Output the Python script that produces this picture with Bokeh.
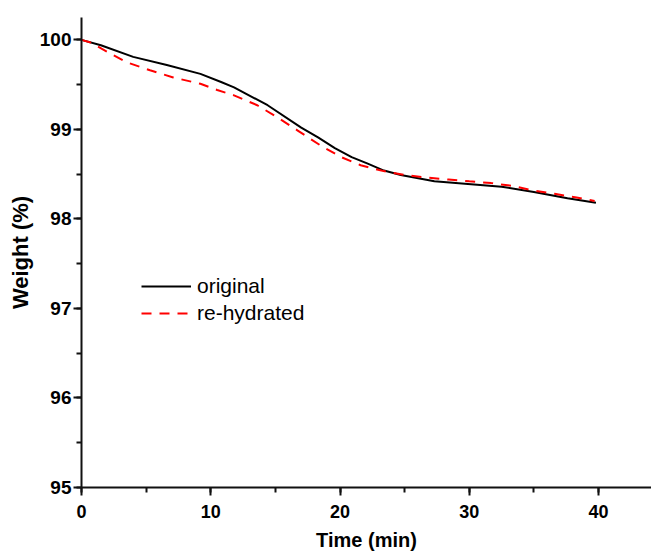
from bokeh.plotting import figure
from bokeh.models import Legend, LegendItem, SingleIntervalTicker, Range1d
from bokeh.embed import file_html
from bokeh.resources import INLINE

# data
t_original = [0, 1.5, 4.0, 6.6, 9.2, 10.8, 11.8, 14.4, 17.0, 18.3, 19.6, 20.9, 22.1, 23.4, 24.7,
              27.3, 29.9, 32.5, 35.0, 37.6, 39.8]
w_original = [100.0, 99.94, 99.81, 99.72, 99.62, 99.53, 99.47, 99.27, 99.02, 98.91, 98.79, 98.69,
              98.62, 98.54, 98.49, 98.42, 98.39, 98.36, 98.30, 98.23, 98.18]

t_rehydrated = [0, 0.7, 2.2, 3.5, 5.3, 7.1, 9.2, 10.5, 11.8, 13.6, 15.2, 16.7, 18.5, 20.1, 21.6,
                23.2, 25.0, 26.8, 28.4, 30.0, 31.7, 33.3, 34.9, 36.6, 38.3, 39.7]
w_rehydrated = [100.0, 99.97, 99.85, 99.75, 99.66, 99.58, 99.51, 99.44, 99.38, 99.27, 99.13, 98.99,
                98.82, 98.69, 98.60, 98.54, 98.49, 98.46, 98.44, 98.42, 98.40, 98.37, 98.32, 98.28,
                98.24, 98.20]

series_labels = ["original", "re-hydrated"]
x_label = "Time (min)"
y_label = "Weight (%)"

p = figure(width=651, height=553, output_backend="svg", toolbar_location=None,
           x_range=Range1d(0, 44.1), y_range=Range1d(95, 100.25),
           min_border_left=81, min_border_right=0, min_border_top=17, min_border_bottom=65)
p.outline_line_color = None
p.xgrid.visible = False
p.ygrid.visible = False
p.background_fill_color = "white"
p.border_fill_color = "white"

r1 = p.line(t_original, w_original, line_color="black", line_width=2)
r2 = p.line(t_rehydrated, w_rehydrated, line_color="#ff0000", line_width=2, line_dash="10 8")

p.xaxis.ticker = SingleIntervalTicker(interval=10, num_minor_ticks=2)
p.yaxis.ticker = SingleIntervalTicker(interval=1, num_minor_ticks=2)

for ax in (p.xaxis, p.yaxis):
    ax.axis_line_width = 2
    ax.axis_line_color = "#111111"
    ax.major_tick_line_width = 2
    ax.minor_tick_line_width = 2
    ax.major_tick_line_color = "#111111"
    ax.minor_tick_line_color = "#111111"
    ax.major_tick_in = 0
    ax.major_tick_out = 8
    ax.minor_tick_in = 0
    ax.minor_tick_out = 5
    ax.major_label_text_font = "Liberation Sans"
    ax.major_label_text_font_style = "bold"
    ax.major_label_text_font_size = "18px"
    ax.major_label_text_color = "black"
    ax.axis_label_text_font = "Liberation Sans"
    ax.axis_label_text_font_style = "bold"
    ax.axis_label_text_color = "black"

p.yaxis.major_label_text_font_size = "19px"
p.xaxis.axis_label_text_font_size = "20px"
p.yaxis.axis_label_text_font_size = "22px"
p.xaxis.axis_label = x_label
p.yaxis.axis_label = y_label
p.xaxis.major_label_standoff = 9
p.yaxis.major_label_standoff = 2
p.xaxis.axis_label_standoff = 8
p.yaxis.axis_label_standoff = 4

legend = Legend(items=[LegendItem(label=series_labels[0], renderers=[r1]),
                       LegendItem(label=series_labels[1], renderers=[r2])],
                location=(60, 162), glyph_width=50, glyph_height=22, spacing=3,
                padding=0, margin=0, label_standoff=6,
                label_text_font="Liberation Sans", label_text_font_size="21px",
                label_text_color="black",
                border_line_color=None, background_fill_alpha=0)
p.add_layout(legend, "center")

open("out.html", "w").write(file_html(p, INLINE))
